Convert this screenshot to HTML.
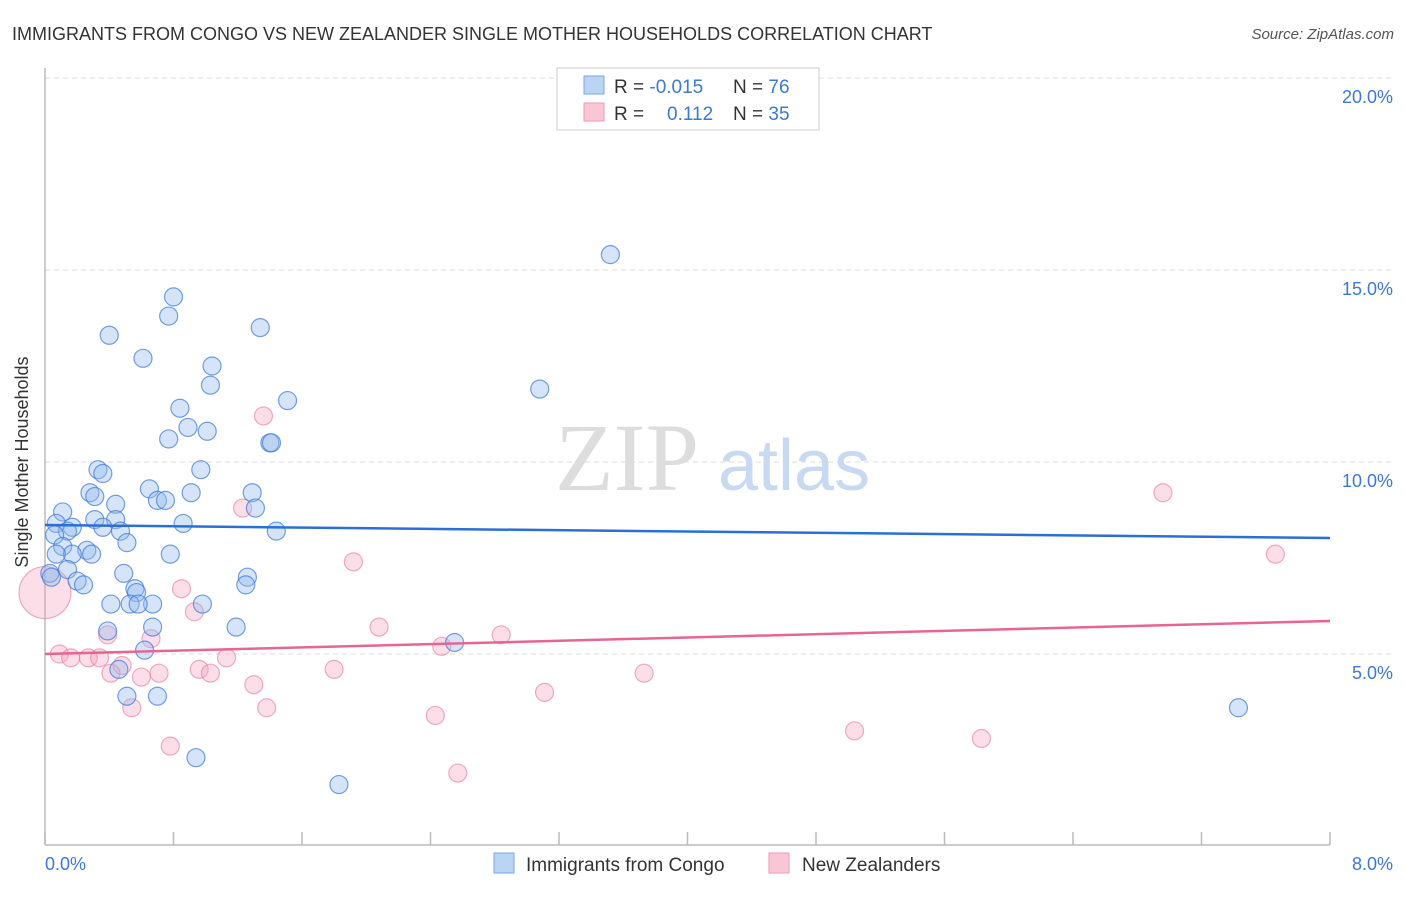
<!DOCTYPE html>
<html><head><meta charset="utf-8"><style>
body{margin:0;background:#fff;font-family:"Liberation Sans",sans-serif;}
</style></head><body>
<svg width="1406" height="892" xmlns="http://www.w3.org/2000/svg" font-family="Liberation Sans, sans-serif">
<text x="12" y="40" font-size="18" fill="#333">IMMIGRANTS FROM CONGO VS NEW ZEALANDER SINGLE MOTHER HOUSEHOLDS CORRELATION CHART</text>
<text x="1394" y="39" font-size="15" fill="#555" font-style="italic" text-anchor="end">Source: ZipAtlas.com</text>
<g id="grid"></g>
<line x1="45" y1="68" x2="45" y2="845" stroke="#bbb" stroke-width="1.5"/>
<line x1="45" y1="845" x2="1330" y2="845" stroke="#bbb" stroke-width="1.5"/>
<text x="555" y="490" font-size="96" fill="#ddd" font-family="Liberation Serif, serif">ZIP</text>
<text x="718" y="490" font-size="72" fill="#c8daf2">atlas</text>
<g id="pts"></g>
<g id="lines"></g>
<text x="22" y="456" font-size="18" fill="#333" text-anchor="middle" transform="rotate(-90 28 456)">Single Mother Households</text>
<text x="45" y="870" font-size="18" fill="#3b78d8">0.0%</text>
<text x="1393" y="870" font-size="18" fill="#3b78d8" text-anchor="end">8.0%</text>
<g>
<rect x="557" y="68" width="262" height="62" fill="#fff" stroke="#ccc"/>
<rect x="584" y="76" width="20" height="18" fill="#bcd4f4" stroke="#7aa6e6"/>
<rect x="584" y="103" width="20" height="18" fill="#f9c6d6" stroke="#ee9ab5"/>
<text x="614" y="93" font-size="19" fill="#333">R = <tspan fill="#3b78d8">-0.015</tspan><tspan x="733">N = </tspan><tspan fill="#3b78d8">76</tspan></text>
<text x="614" y="120" font-size="19" fill="#333">R = <tspan x="667" fill="#3b78d8">0.112</tspan><tspan x="733">N = </tspan><tspan fill="#3b78d8">35</tspan></text>
</g>
<g>
<rect x="494" y="853" width="20" height="20" fill="#bcd4f4" stroke="#7aa6e6"/>
<text x="526" y="871" font-size="19" fill="#333">Immigrants from Congo</text>
<rect x="769" y="853" width="20" height="20" fill="#f9c6d6" stroke="#ee9ab5"/>
<text x="802" y="871" font-size="19" fill="#333">New Zealanders</text>
</g>
</svg>
<script>
const yTicks=[5,10,15,20];
const xTickVals=[0,0.8,1.6,2.4,3.2,4.0,4.8,5.6,6.4,7.2,8.0];
const blueX=[3.52,0.80,0.77,0.40,1.34,0.61,1.04,1.03,3.08,1.51,0.84,0.89,1.01,0.77,1.40,1.41,0.33,0.36,0.97,0.65,1.29,0.28,0.31,0.91,0.70,0.75,0.44,0.11,1.31,0.31,0.44,0.86,0.07,0.17,1.44,0.36,0.14,0.06,0.47,0.51,0.11,0.26,0.17,0.29,0.07,0.78,0.03,0.14,0.49,0.20,0.24,1.26,1.25,0.56,0.57,0.04,0.41,0.53,0.67,0.58,0.98,0.67,1.19,0.39,0.62,2.55,0.46,0.51,0.70,7.43,0.94,1.83];
const blueY=[15.4,14.3,13.8,13.3,13.5,12.7,12.5,12.0,11.9,11.6,11.4,10.9,10.8,10.6,10.5,10.5,9.8,9.7,9.8,9.3,9.2,9.2,9.1,9.2,9.0,9.0,8.9,8.7,8.8,8.5,8.5,8.4,8.4,8.3,8.2,8.3,8.2,8.1,8.2,7.9,7.8,7.7,7.6,7.6,7.6,7.6,7.1,7.2,7.1,6.9,6.8,7.0,6.8,6.7,6.6,7.0,6.3,6.3,6.3,6.3,6.3,5.7,5.7,5.6,5.1,5.3,4.6,3.9,3.9,3.6,2.3,1.6];
const pinkX=[1.36,1.23,6.96,7.66,1.92,0.85,0.93,2.08,0.39,0.66,2.84,2.47,0.09,0.16,0.27,0.34,0.48,0.41,1.13,0.96,1.03,0.71,0.60,1.80,3.73,1.30,3.11,1.38,0.54,2.43,5.04,5.83,0.78,2.57,0.0];
const pinkY=[11.2,8.8,9.2,7.6,7.4,6.7,6.1,5.7,5.5,5.4,5.5,5.2,5.0,4.9,4.9,4.9,4.7,4.5,4.9,4.6,4.5,4.5,4.4,4.6,4.5,4.2,4.0,3.6,3.6,3.4,3.0,2.8,2.6,1.9,6.6];
const blueTrend=[8.36,8.02];
const pinkTrend=[5.00,5.86];
const NS="http://www.w3.org/2000/svg";
const X=v=>45+v/8*1285, Y=v=>846-v*38.4;
function mk(t,a,p){const e=document.createElementNS(NS,t);for(const k in a)e.setAttribute(k,a[k]);p.appendChild(e);return e;}
const grid=document.getElementById('grid');
yTicks.forEach(t=>{
 const l=mk('line',{x1:45,x2:1394,y1:Y(t),y2:Y(t),stroke:'#ddd','stroke-dasharray':'5,4'},grid);
 
 
 const tx=mk('text',{x:1393,y:Y(t)+25,'font-size':18,fill:'#3b78d8','text-anchor':'end'},grid);
 tx.textContent=t.toFixed(1)+'%';
 
 
});
xTickVals.forEach(t=>{
 const l=mk('line',{x1:X(t),x2:X(t),y1:832,y2:845,stroke:'#bbb','stroke-width':1.5},grid);
 
 
});
const pts=document.getElementById('pts');
pinkX.forEach((x,i)=>{
 const c=mk('circle',{cx:X(x),cy:Y(pinkY[i]),r:i==pinkX.length-1?26:9,fill:'rgba(244,160,188,0.35)',stroke:'rgba(232,120,155,0.6)','stroke-width':1.2},pts);
 
 
});
blueX.forEach((x,i)=>{
 const c=mk('circle',{cx:X(x),cy:Y(blueY[i]),r:9,fill:'rgba(150,188,238,0.4)',stroke:'rgba(60,120,216,0.7)','stroke-width':1.2},pts);
 
 
});
const ln=document.getElementById('lines');
const b=mk('line',{x1:X(0),x2:X(8),y1:Y(blueTrend[0]),y2:Y(blueTrend[1]),stroke:'#2a6fd6','stroke-width':2.5},ln);


const p=mk('line',{x1:X(0),x2:X(8),y1:Y(pinkTrend[0]),y2:Y(pinkTrend[1]),stroke:'#e8658f','stroke-width':2.5},ln);


</script>
</body></html>
